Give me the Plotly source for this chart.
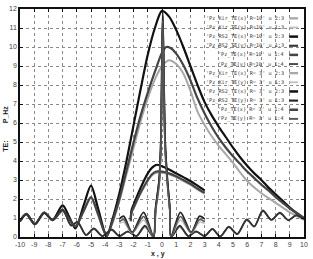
import plotly.graph_objects as go

# ---------------- data ----------------
x_ticks = list(range(-10, 11))
y_ticks = list(range(0, 13))

legend_labels = [
    "'Pz_Kir_TE(x) R=10' u 2:3", "'Pz_Kir_TE(y) R=10' u 1:3",
    "'Pz_RS2_TE(x) R=10' u 2:3", "'Pz_RS2_TE(y) R=10' u 1:3",
    "'Pz_TE(x) R=10' u 1:4", "'Pz_TE(y) R=10' u 1:4",
    "'Pz_Kir_TE(x) R= 3' u 2:3", "'Pz_Kir_TE(y) R= 3' u 1:3",
    "'Pz_RS2_TE(x) R= 3' u 2:3", "'Pz_RS2_TE(y) R= 3' u 1:3",
    "'Pz_TE(x) R= 3' u 1:4", "'Pz_TE(y) R= 3' u 1:4",
]

# R=10, x profiles (broad)
x_r10x = [-10, -9.55, -8.95, -8.3, -7.7, -7.0, -6.5, -6.1, -5.5, -5.0, -4.5, -3.9, -3.5, -3.0,
          -2.5, -2.0, -1.5, -1.0, -0.5, 0.0, 0.5, 1.0, 1.5, 2.0, 2.5, 3.0, 3.5, 4.0, 4.5, 5.0,
          5.5, 6.0, 6.5, 7.0, 7.5, 8.0, 8.5, 9.0, 9.5, 10.0]
kir_x_r10 = [0.85, 1.2, 0.68, 1.27, 0.9, 1.36, 0.95, 0.6, 1.4, 2.05, 1.15, 0.05, 0.7, 1.9,
             3.3, 4.7, 6.1, 7.3, 8.3, 9.0, 9.3, 9.1, 8.6, 7.7, 6.6, 5.9, 5.3, 4.8, 4.35, 3.9,
             3.4, 2.95, 2.6, 2.3, 2.05, 1.8, 1.55, 1.3, 1.1, 0.9]
rs2_x_r10 = [0.82, 1.22, 0.67, 1.28, 0.9, 1.66, 1.0, 0.45, 1.7, 2.7, 1.5, 0.05, 0.9, 2.3,
             4.0, 5.9, 7.8, 9.6, 11.0, 11.9, 11.6, 10.9, 10.0, 9.0, 8.0, 7.1, 6.4, 5.8, 5.25, 4.7,
             4.2, 3.75, 3.35, 3.0, 2.6, 2.25, 1.9, 1.55, 1.25, 1.0]
x_te_x_r10 = [-10, -9.55, -8.95, -8.3, -7.7, -7.0, -6.5, -6.1, -5.5, -5.0, -4.5, -3.9, -3.5, -3.0,
              -2.5, -2.0, -1.5, -1.0, -0.5, 0.0, 0.3, 0.6, 1.0, 1.5, 2.0, 2.5, 3.0, 3.5, 4.0, 4.5,
              5.0, 5.5, 6.0, 6.5, 7.0, 7.5, 8.0, 8.5, 9.0, 9.5, 10.0]
te_x_r10 = [0.85, 1.2, 0.68, 1.27, 0.9, 1.4, 0.9, 0.55, 1.4, 2.1, 1.2, 0.05, 0.8, 2.0,
            3.5, 5.0, 6.4, 7.6, 8.7, 9.7, 10.0, 9.95, 9.65, 9.05, 8.25, 7.3, 6.5, 5.8, 5.2, 4.7,
            4.25, 3.85, 3.45, 3.1, 2.75, 2.45, 2.1, 1.8, 1.5, 1.25, 1.0]

# R=10, y profiles (oscillating, central spike)
x_r10y = [-10, -9.55, -8.95, -8.3, -7.7, -7.0, -6.4, -5.95, -5.35, -4.8, -4.2, -3.55, -3.0, -2.4,
          -1.8, -1.2, -0.6, -0.45, -0.2, -0.08, 0.05, 0.22, 0.38, 0.55, 0.65, 1.25, 1.85, 2.4,
          3.0, 3.55, 4.1, 4.7, 5.3, 5.97, 6.5, 7.1, 7.7, 8.3, 8.9, 9.45, 10.0]
kir_y_r10 = [0.85, 1.18, 0.7, 1.24, 0.9, 1.36, 0.62, 0.75, 0.12, 0.4, 0.05, 0.36, 0.05, 0.27,
             0.05, 0.5, 0.0, 1.4, 2.8, 4.6, 11.3, 4.6, 2.8, 1.4, 0.0, 0.5, 0.05, 0.27,
             0.05, 0.4, 0.03, 0.5, 0.17, 0.88, 0.58, 1.34, 0.92, 1.24, 0.9, 1.12, 0.93]
rs2_y_r10 = [0.85, 1.22, 0.67, 1.28, 0.88, 1.45, 0.6, 0.8, 0.1, 0.45, 0.05, 0.4, 0.05, 0.3,
             0.05, 0.6, 0.0, 1.5, 3.0, 5.0, 11.9, 5.0, 3.0, 1.5, 0.0, 0.6, 0.05, 0.3,
             0.05, 0.43, 0.02, 0.55, 0.15, 0.93, 0.55, 1.4, 0.9, 1.28, 0.88, 1.15, 0.95]
te_y_r10 = [0.86, 1.2, 0.68, 1.26, 0.89, 1.42, 0.61, 0.78, 0.11, 0.43, 0.05, 0.38, 0.05, 0.29,
            0.05, 0.56, 0.0, 1.45, 2.9, 4.8, 11.6, 4.8, 2.9, 1.45, 0.0, 0.56, 0.05, 0.29,
            0.05, 0.42, 0.03, 0.53, 0.16, 0.9, 0.56, 1.37, 0.91, 1.26, 0.89, 1.13, 0.94]

# R=3, x profiles (medium peak)
x_r3x = [-2.2, -2.15, -2.0, -1.5, -1.0, -0.7, -0.4, 0.0, 0.5, 1.0, 1.5, 2.0, 2.5, 3.0]
kir_x_r3 = [0.8, 1.25, 1.5, 2.3, 2.95, 3.25, 3.38, 3.38, 3.3, 3.15, 2.95, 2.75, 2.5, 2.28]
rs2_x_r3 = [0.9, 1.4, 1.7, 2.6, 3.35, 3.65, 3.8, 3.72, 3.55, 3.35, 3.15, 2.95, 2.7, 2.45]
te_x_r3 = [0.85, 1.3, 1.55, 2.35, 3.0, 3.3, 3.45, 3.44, 3.35, 3.2, 3.0, 2.8, 2.55, 2.32]

# R=3, y profiles (oscillating, central spike)
x_r3y = [-3.0, -2.7, -2.1, -1.3, -0.6, -0.45, -0.2, -0.08, 0.05, 0.22, 0.38, 0.55, 0.63,
         1.3, 2.05, 2.65, 3.0]
kir_y_r3 = [0.7, 0.78, 0.2, 0.9, 0.0, 1.3, 2.6, 4.3, 11.0, 4.3, 2.6, 1.3, 0.0, 0.9, 0.2, 0.78, 0.7]
rs2_y_r3 = [0.95, 1.1, 0.25, 1.3, 0.0, 1.5, 3.0, 5.0, 11.7, 5.0, 3.0, 1.5, 0.0, 1.3, 0.25, 1.1, 0.95]
te_y_r3 = [0.8, 0.92, 0.22, 1.08, 0.0, 1.4, 2.8, 4.7, 11.4, 4.7, 2.8, 1.4, 0.0, 1.08, 0.22, 0.92, 0.8]

series_x = [x_r10x, x_r10y, x_r10x, x_r10y, x_te_x_r10, x_r10y,
            x_r3x, x_r3y, x_r3x, x_r3y, x_r3x, x_r3y]
series_y = [kir_x_r10, kir_y_r10, rs2_x_r10, rs2_y_r10, te_x_r10, te_y_r10,
            kir_x_r3, kir_y_r3, rs2_x_r3, rs2_y_r3, te_x_r3, te_y_r3]

# ---------------- styles ----------------
colors = ["#a8a8a8", "#c0c0c0", "#111111", "#333333", "#444444", "#333333",
          "#a8a8a8", "#c0c0c0", "#111111", "#222222", "#444444", "#555555"]
widths = [2, 1.5, 2.2, 1.8, 2.2, 1.4, 2, 1.5, 2.2, 1.8, 2.2, 1.6]

fig = go.Figure()
for xs, ys, c, w in zip(series_x, series_y, colors, widths):
    fig.add_trace(go.Scatter(x=xs, y=ys, mode="lines",
                             line=dict(color=c, width=w, shape="spline", smoothing=0.8),
                             showlegend=False, hoverinfo="skip"))

# plot area geometry in pixels
L, R, T, B = 20, 308, 5, 237
W, H = R - L, B - T

def px(xp):
    return (xp - L) / W

def py(yp):
    return (B - yp) / H

# legend (gnuplot-style: text then sample on the right)
for i, (lab, c, w) in enumerate(zip(legend_labels, colors, widths)):
    yc = 14.5 + 9.3 * i
    fig.add_annotation(x=px(290), y=py(yc), xref="paper", yref="paper",
                       text=lab, showarrow=False, xanchor="right", yanchor="middle",
                       font=dict(family="DejaVu Sans Mono", size=5.2, color="#333333"))
    fig.add_shape(type="line", xref="paper", yref="paper",
                  x0=px(293), x1=px(302), y0=py(yc), y1=py(yc),
                  line=dict(color=c, width=w + 0.3))

# axis titles
fig.add_annotation(x=px(5), y=py(112), xref="paper", yref="paper", text="<b>P_Hz</b>",
                   textangle=-90, showarrow=False, xanchor="center", yanchor="middle",
                   font=dict(family="Liberation Sans", size=7, color="#222222"))
fig.add_annotation(x=px(5), y=py(145), xref="paper", yref="paper", text="<b>TE:</b>",
                   textangle=-90, showarrow=False, xanchor="center", yanchor="middle",
                   font=dict(family="Liberation Sans", size=7, color="#222222"))
fig.add_annotation(x=px(160), y=py(254), xref="paper", yref="paper", text="<b>x , y</b>",
                   showarrow=False, xanchor="center", yanchor="middle",
                   font=dict(family="Liberation Sans", size=7, color="#222222"))

axis_common = dict(showgrid=True, gridcolor="#8a8a8a", gridwidth=0.8, griddash="dot",
                   showline=True, linecolor="#111111", linewidth=1.5, mirror="ticks",
                   ticks="inside", ticklen=3, tickcolor="#111111", zeroline=False,
                   tickfont=dict(family="Liberation Sans", size=7, color="#444444"))

fig.update_xaxes(range=[-10, 10], tickvals=x_ticks, ticktext=[str(v) for v in x_ticks],
                 **axis_common)
fig.update_yaxes(range=[0, 12], tickvals=y_ticks, ticktext=[str(v) for v in y_ticks],
                 **axis_common)

fig.update_layout(width=313, height=259, margin=dict(l=L, r=313 - R, t=T, b=259 - B),
                  paper_bgcolor="white", plot_bgcolor="white", showlegend=False)

fig.write_html("out.html")
